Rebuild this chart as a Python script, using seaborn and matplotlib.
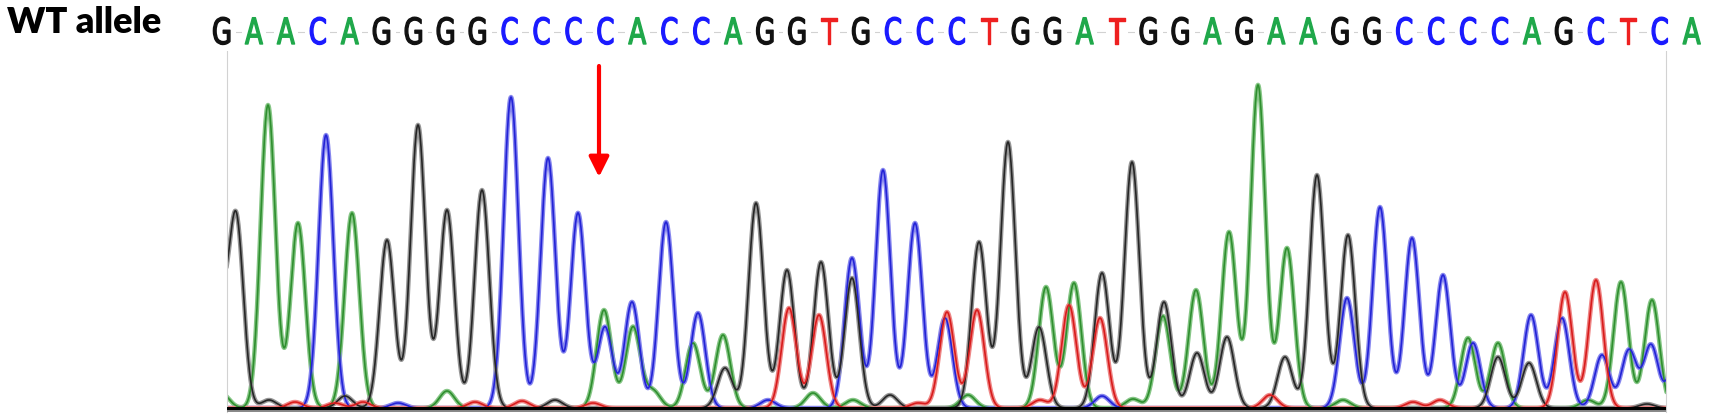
import numpy as np
import pandas as pd
import matplotlib
matplotlib.use("Agg")
import matplotlib.pyplot as plt
import matplotlib.patheffects as pe
import seaborn as sns
from matplotlib.transforms import Affine2D

# base calls printed above the trace
bases = list("GAACAGGGGCCCCACCAGGTGCCCTGGATGGAGAAGGCCCCAGCTCA")

# peak centres (scan position) and heights, one pair of lists per dye channel
a_pos = [222, 268, 298, 352, 447, 604, 633, 653, 693, 723, 813, 853, 968, 1046, 1074,
         1133, 1163, 1196, 1229, 1258, 1287, 1343, 1468, 1498, 1588, 1621, 1652]
a_height = [14, 303, 185, 195, 17, 98, 81, 17, 65, 73, 15, 8, 13, 121, 125,
            9, 92, 118, 176, 323, 160, 8, 70, 65, 8, 126, 108]

c_pos = [326, 398, 511, 548, 578, 605, 632, 666, 698, 768, 852, 883, 915, 945, 1102,
         1347, 1380, 1412, 1443, 1473, 1531, 1562, 1602, 1629, 1651, 1676]
c_height = [273, 5, 311, 250, 195, 81, 106, 186, 95, 8, 150, 238, 185, 90, 12,
            110, 201, 170, 133, 65, 93, 90, 53, 58, 63, 50]

g_pos = [218, 236, 269, 345, 387, 418, 447, 482, 555, 725, 756, 787, 821, 852, 890,
         979, 1008, 1039, 1102, 1132, 1164, 1197, 1227, 1285, 1317, 1348, 1498, 1529, 1647]
g_height = [110, 191, 8, 12, 168, 283, 198, 218, 8, 40, 205, 138, 146, 130, 13,
            166, 266, 81, 135, 246, 106, 55, 71, 51, 233, 173, 51, 45, 4]

t_pos = [295, 335, 363, 475, 522, 593, 789, 819, 918, 947, 977, 1040, 1069, 1100,
         1270, 1413, 1440, 1565, 1596]
t_height = [6, 5, 6, 6, 7, 5, 100, 93, 5, 96, 98, 8, 103, 90,
            13, 6, 8, 116, 128]

# mutation site marker
arrow_pos = 599
arrow_top, arrow_tip = 342, 231

peak_width = 7.4
core_colors = {"A": "#2f8f2f", "C": "#2323d6", "G": "#262626", "T": "#d81c1c"}
halo_colors = {"A": "#86c686", "C": "#8686ee", "G": "#969696", "T": "#ee8686"}
letter_colors = {"A": "#1fa84a", "C": "#1a1aff", "G": "#111111", "T": "#ee2020"}


class Squeeze(pe.AbstractPathEffect):
    """Draw glyphs narrower (and a little heavier) around a fixed x pixel."""

    def __init__(self, cx, sx=0.72, stroke=1.0):
        super().__init__()
        self.cx, self.sx, self.stroke = cx, sx, stroke

    def draw_path(self, renderer, gc, tpath, affine, rgbFace=None):
        squeeze = Affine2D().translate(-self.cx, 0).scale(self.sx, 1).translate(self.cx, 0)
        gc0 = renderer.new_gc()
        gc0.copy_properties(gc)
        gc0.set_linewidth(self.stroke)
        gc0.set_foreground(rgbFace)
        renderer.draw_path(gc0, tpath, affine + squeeze, rgbFace)
        gc0.restore()


peaks = {"A": (a_pos, a_height), "C": (c_pos, c_height),
         "G": (g_pos, g_height), "T": (t_pos, t_height)}

scan = np.arange(200, 1700, 0.5)
frames = []
for base, (pos, height) in peaks.items():
    signal = np.zeros_like(scan)
    for p, h in zip(pos, height):
        signal += h * np.exp(-((scan - p) ** 2) / (2 * peak_width ** 2))
    frames.append(pd.DataFrame({"scan": scan, "signal": signal, "base": base}))
traces = pd.concat(frames, ignore_index=True)

sns.set_style("white")
W, H = 1713, 419
fig = plt.figure(figsize=(W / 100, H / 100), dpi=100)
ax = fig.add_axes([227 / W, 7 / H, (1666 - 227) / W, (412 - 32) / H])

sns.lineplot(data=traces, x="scan", y="signal", hue="base", palette=halo_colors,
             estimator=None, sort=False, legend=False, lw=3.2, ax=ax)
sns.lineplot(data=traces, x="scan", y="signal", hue="base", palette=core_colors,
             estimator=None, sort=False, legend=False, lw=1.2, ax=ax)

ax.set_xlim(227, 1666)
ax.set_ylim(-4, 376)
ax.set_xlabel("")
ax.set_ylabel("")
ax.set_xticks([])
ax.set_yticks([])
for side in ["top", "left", "right"]:
    ax.spines[side].set_color("#d2d2d2")
    ax.spines[side].set_linewidth(0.8)
ax.spines["bottom"].set_visible(False)

# baseline
ax.axhline(-2.6, color="#8a8a8a", lw=1.6, zorder=5)
ax.axhline(0, color="black", lw=2.2, zorder=6)

# base calls
step = 31.95
for i, b in enumerate(bases):
    col = letter_colors[b]
    x = 222 + i * step
    cx = ax.transData.transform((x, 0))[0]
    ax.text(x, 364, b, color=col, ha="center", va="baseline",
            fontsize=26, family="DejaVu Sans", clip_on=False, zorder=10,
            bbox=dict(facecolor="white", edgecolor="none", pad=0),
            path_effects=[Squeeze(cx)])

ax.annotate("", xy=(arrow_pos, arrow_tip), xytext=(arrow_pos, arrow_top),
            arrowprops=dict(arrowstyle="-|>,head_length=1.2,head_width=0.6",
                            color="#ff0000", lw=3.0, shrinkA=0, shrinkB=0),
            zorder=12)

fig.text(7 / W, 1 - 33 / H, "WT allele", fontsize=26, fontweight="heavy", color="black",
         family=["Lato", "DejaVu Sans"], ha="left", va="baseline")

fig.savefig("out.png", dpi=100)
